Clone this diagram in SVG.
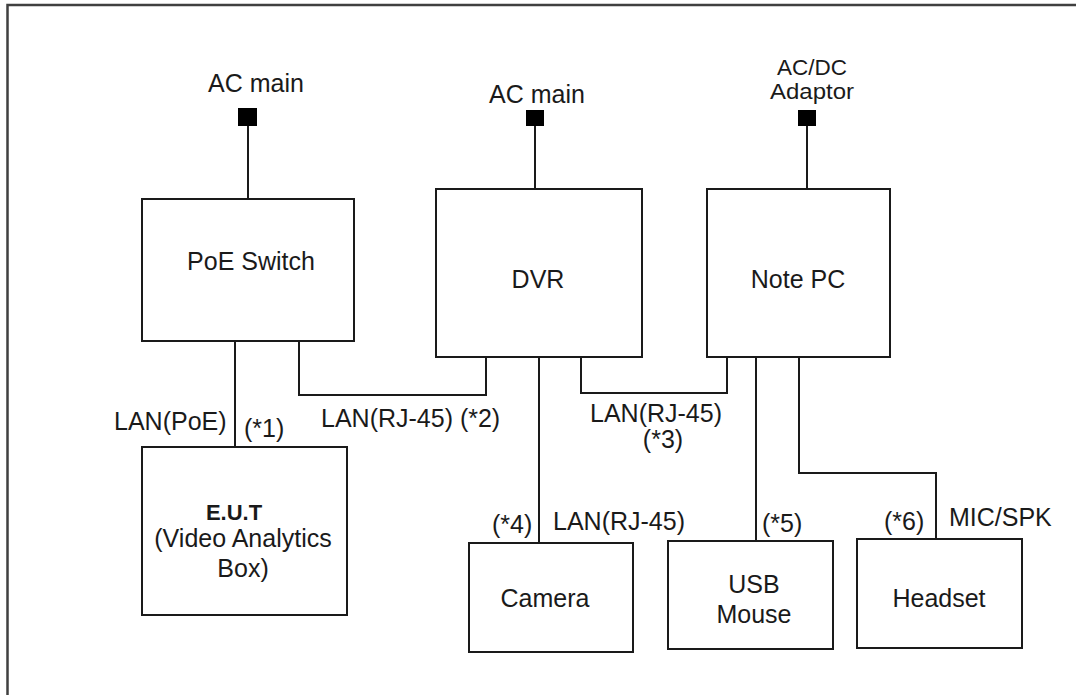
<svg xmlns="http://www.w3.org/2000/svg" width="1076" height="695" viewBox="0 0 1076 695">
<style>
.bx{fill:#fff;stroke:#1a1a1a;stroke-width:2}
.ln{fill:none;stroke:#1a1a1a;stroke-width:2}
.t{font-family:"Liberation Sans",Arial,sans-serif;font-size:25px;fill:#1a1a1a}
.m{text-anchor:middle}
.b{font-weight:bold;font-size:22px}
.s{font-size:22px}
.pw{fill:#000}
</style>
<rect x="0" y="0" width="1076" height="695" fill="#fff"/>
<rect id="frame" x="7.5" y="5" width="1100" height="720" fill="none" stroke="#404040" stroke-width="2.5"/>
<g id="connectors">
<path class="ln" d="M248 126V199"/>
<path class="ln" d="M535 126V189"/>
<path class="ln" d="M807 126V189"/>
<path class="ln" d="M235 341V447"/>
<path class="ln" d="M299 341V395H486V357"/>
<path class="ln" d="M539 357V543"/>
<path class="ln" d="M581 357V393H727V357"/>
<path class="ln" d="M756 357V541"/>
<path class="ln" d="M799 357V473H936V539"/>
</g>
<g id="power-poe"><rect class="pw" x="238" y="108" width="19" height="18"/><text class="t m" x="256" y="92">AC main</text></g>
<g id="power-dvr"><rect class="pw" x="526" y="110" width="18" height="16"/><text class="t m" x="537" y="103">AC main</text></g>
<g id="power-pc"><rect class="pw" x="798" y="110" width="18" height="16"/><text class="t m s" x="812" y="75" textLength="70" lengthAdjust="spacingAndGlyphs">AC/DC</text><text class="t m s" x="812" y="99" textLength="84" lengthAdjust="spacingAndGlyphs">Adaptor</text></g>
<g id="poe-switch"><rect class="bx" x="142" y="199" width="212" height="142"/><text class="t m" x="251" y="270">PoE Switch</text></g>
<g id="dvr"><rect class="bx" x="436" y="189" width="206" height="168"/><text class="t m" x="538" y="288">DVR</text></g>
<g id="note-pc"><rect class="bx" x="707" y="189" width="183" height="168"/><text class="t m" x="798" y="288">Note PC</text></g>
<g id="eut"><rect class="bx" x="142" y="447" width="205" height="168"/><text class="t m b" x="234" y="520" fill="#1a2a44">E.U.T</text><text class="t m" x="243" y="547">(Video Analytics</text><text class="t m" x="243" y="577">Box)</text></g>
<g id="camera"><rect class="bx" x="469" y="543" width="164" height="109"/><text class="t m" x="545" y="607">Camera</text></g>
<g id="usb-mouse"><rect class="bx" x="668" y="541" width="165" height="108"/><text class="t m" x="754" y="593">USB</text><text class="t m" x="754" y="623">Mouse</text></g>
<g id="headset"><rect class="bx" x="857" y="539" width="165" height="109"/><text class="t m" x="939" y="607">Headset</text></g>
<g id="labels">
<text class="t" x="114" y="430">LAN(PoE)</text>
<text class="t" x="244" y="437">(*1)</text>
<text class="t" x="321" y="427">LAN(RJ-45) (*2)</text>
<text class="t m" x="656" y="422">LAN(RJ-45)</text>
<text class="t m" x="663" y="448">(*3)</text>
<text class="t" x="492" y="533">(*4)</text>
<text class="t" x="553" y="530">LAN(RJ-45)</text>
<text class="t" x="762" y="532">(*5)</text>
<text class="t" x="884" y="530">(*6)</text>
<text class="t" x="949" y="526">MIC/SPK</text>
</g>
</svg>
